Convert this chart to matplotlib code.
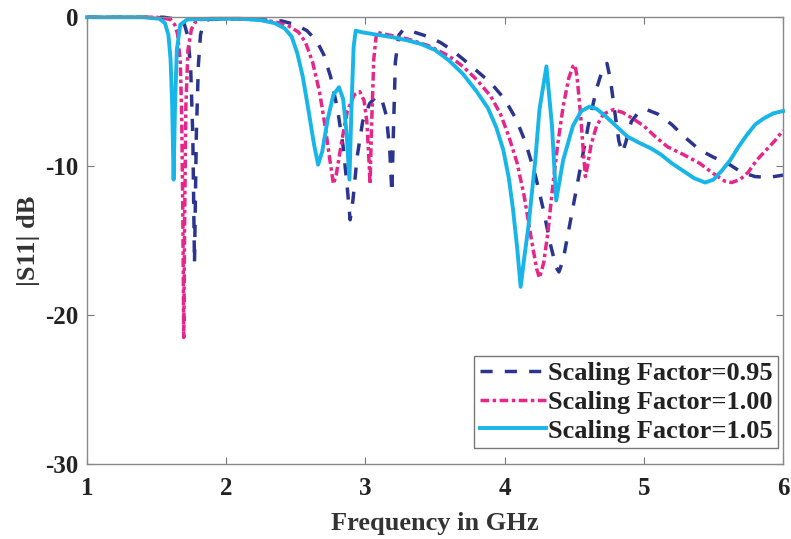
import matplotlib
matplotlib.use('Agg')
from matplotlib import pyplot as plt

plt.rcParams['font.family'] = ['Liberation Serif', 'DejaVu Serif']
plt.rcParams['font.weight'] = 'bold'
plt.rcParams['axes.unicode_minus'] = False

# |S11| traces, frequency in GHz / magnitude in dB
f_095 = [1.00, 1.55, 1.66, 1.70, 1.725, 1.745, 1.76, 1.772, 1.785, 1.80, 1.815, 1.835, 1.87,
         2.10, 2.30, 2.40, 2.50, 2.58, 2.65, 2.70, 2.75, 2.80, 2.84, 2.87, 2.89, 2.91, 2.94, 2.98,
         3.03, 3.08, 3.12, 3.15, 3.175, 3.19, 3.20, 3.215, 3.24, 3.27, 3.35, 3.45, 3.54, 3.62, 3.70,
         3.80, 3.90, 4.00, 4.08, 4.15, 4.22, 4.28, 4.33, 4.37, 4.39, 4.42, 4.47, 4.54, 4.60, 4.66,
         4.71, 4.735, 4.76, 4.79, 4.82, 4.845, 4.87, 4.91, 4.96, 5.02, 5.10, 5.20, 5.30, 5.40, 5.50,
         5.60, 5.70, 5.80, 5.90, 6.00]
s_095 = [0.0, 0.0, -0.15, -0.5, -1.3, -3.5, -8.0, -16.5, -8.0, -3.2, -1.2, -0.4, -0.15,
         -0.1, -0.2, -0.25, -0.5, -0.9, -1.6, -2.5, -4.0, -6.2, -8.7, -11.5, -13.6, -12.3, -9.4, -7.0,
         -5.8, -5.3, -5.6, -6.6, -9.0, -11.8, -8.0, -3.0, -1.2, -0.85, -1.0, -1.3, -1.7, -2.2, -2.8,
         -3.6, -4.4, -5.5, -6.8, -8.4, -10.6, -13.0, -15.3, -16.8, -17.1, -16.3, -13.8, -10.3, -7.3, -4.8,
         -3.3, -3.1, -4.2, -6.3, -8.3, -9.1, -8.4, -7.0, -6.4, -6.2, -6.5, -7.2, -8.1, -8.9, -9.4,
         -9.8, -10.4, -10.7, -10.75, -10.6]

f_100 = [1.00, 1.50, 1.60, 1.63, 1.65, 1.67, 1.68, 1.688, 1.695, 1.702, 1.71, 1.725, 1.75, 1.78,
         1.82, 2.00, 2.20, 2.35, 2.45, 2.52, 2.57, 2.62, 2.67, 2.71, 2.745, 2.77, 2.79, 2.83, 2.87,
         2.92, 2.96, 2.99, 3.01, 3.025, 3.033, 3.045, 3.06, 3.08, 3.12, 3.20, 3.30, 3.45, 3.60, 3.70,
         3.80, 3.90, 3.97, 4.03, 4.09, 4.14, 4.19, 4.23, 4.25, 4.28, 4.31, 4.34, 4.38, 4.42, 4.46,
         4.49, 4.505, 4.52, 4.545, 4.565, 4.58, 4.595, 4.62, 4.66, 4.71, 4.78, 4.85, 4.92, 5.00, 5.08,
         5.17, 5.28, 5.40, 5.50, 5.58, 5.63, 5.69, 5.75, 5.81, 5.88, 5.94, 6.00]
s_100 = [0.0, 0.0, -0.15, -0.5, -1.1, -3.0, -6.5, -13.0, -21.5, -13.0, -6.0, -2.2, -0.8, -0.3,
         -0.15, -0.1, -0.15, -0.3, -0.6, -1.0, -1.7, -3.0, -5.0, -7.3, -9.6, -11.2, -10.6, -8.3, -6.3,
         -5.2, -5.0, -5.6, -7.0, -9.5, -11.2, -7.0, -2.8, -1.0, -1.1, -1.25, -1.45, -1.9, -2.6, -3.3,
         -4.2, -5.3, -6.5, -8.0, -9.8, -12.0, -14.8, -16.9, -17.5, -16.5, -14.5, -11.8, -8.6, -6.0, -4.1,
         -3.3, -3.2, -4.0, -6.5, -9.0, -10.7, -10.0, -8.6, -7.3, -6.5, -6.2, -6.4, -6.8, -7.3, -8.0,
         -8.7, -9.2, -9.8, -10.5, -11.0, -11.1, -10.9, -10.4, -9.6, -8.9, -8.3, -7.6]

f_105 = [1.00, 1.40, 1.52, 1.56, 1.585, 1.60, 1.612, 1.622, 1.632, 1.645, 1.67, 1.72, 1.90, 2.10,
         2.25, 2.35, 2.42, 2.47, 2.51, 2.55, 2.59, 2.63, 2.66, 2.69, 2.73, 2.77, 2.81, 2.84, 2.865,
         2.885, 2.90, 2.915, 2.93, 2.97, 3.10, 3.20, 3.30, 3.40, 3.50, 3.60, 3.70, 3.80, 3.88, 3.94,
         3.99, 4.03, 4.06, 4.09, 4.115, 4.14, 4.17, 4.22, 4.25, 4.30, 4.34, 4.37, 4.42, 4.49, 4.55,
         4.61, 4.66, 4.72, 4.80, 4.88, 4.96, 5.05, 5.12, 5.20, 5.28, 5.36, 5.44, 5.50, 5.56, 5.62,
         5.68, 5.74, 5.80, 5.86, 5.93, 6.00]
s_105 = [0.0, 0.0, -0.1, -0.4, -1.2, -2.8, -6.0, -10.9, -6.0, -2.2, -0.5, -0.15, -0.1, -0.1,
         -0.2, -0.4, -0.75, -1.3, -2.4, -4.0, -6.2, -8.5, -9.9, -9.0, -6.8, -5.2, -4.7, -5.5, -7.8,
         -10.9, -6.0, -2.0, -0.9, -1.0, -1.2, -1.35, -1.55, -1.8, -2.2, -2.9, -3.8, -5.0, -6.1, -7.4,
         -8.9, -10.8, -12.9, -15.5, -18.1, -16.2, -14.1, -9.6, -6.2, -3.3, -7.3, -12.3, -9.6, -7.3, -6.3,
         -6.0, -6.15, -6.6, -7.3, -8.0, -8.4, -8.8, -9.2, -9.8, -10.3, -10.8, -11.1, -10.9, -10.3, -9.6,
         -8.7, -7.9, -7.2, -6.8, -6.45, -6.3]

labels = ['Scaling Factor=0.95', 'Scaling Factor=1.00', 'Scaling Factor=1.05']

fig = plt.figure(figsize=(7.91, 5.39), dpi=100)
ax = fig.add_axes([0.110, 0.139, 0.880, 0.829])

lw = 2.5
ax.plot(f_095, s_095, color='#2B3590', lw=lw, linestyle=(0, (3.5, 3.5)), label=labels[0], clip_on=False)
ax.plot(f_100, s_100, color='#E6268A', lw=lw, linestyle=(0, (2.5, 1.0, 1.0, 1.0)), label=labels[1], clip_on=False)
ax.plot(f_105, s_105, color='#17B5E8', lw=lw + 0.3, linestyle='-', label=labels[2], clip_on=False)

ax.set_xlim(1, 6)
ax.set_ylim(-30, 0)
ax.set_xticks([1, 2, 3, 4, 5, 6])
ax.set_yticks([0, -10, -20, -30])
ax.tick_params(direction='in', length=5, width=0.8, color='#777777', top=True, right=True,
               labelsize=18, labelcolor='#222222')
ax.tick_params(axis='x', pad=9)
ax.tick_params(axis='y', pad=6)
for sp in ax.spines.values():
    sp.set_color('#888888')
    sp.set_linewidth(1.0)

ax.set_xlabel('Frequency in GHz', fontsize=19, fontweight='bold', color='#333333', labelpad=9)
ax.set_ylabel('|S11| dB', fontsize=19, fontweight='bold', color='#333333', labelpad=4)

leg = ax.legend(loc='lower right', bbox_to_anchor=(0.993, 0.036), fontsize=19, frameon=True,
                fancybox=False, framealpha=1, edgecolor='#777777', handlelength=2.5,
                handletextpad=0.1, borderpad=0.2, labelspacing=0.2, borderaxespad=0)
leg.get_frame().set_linewidth(1.0)
for t in leg.get_texts():
    t.set_color('#222222')

fig.savefig('out.png', dpi=100)
